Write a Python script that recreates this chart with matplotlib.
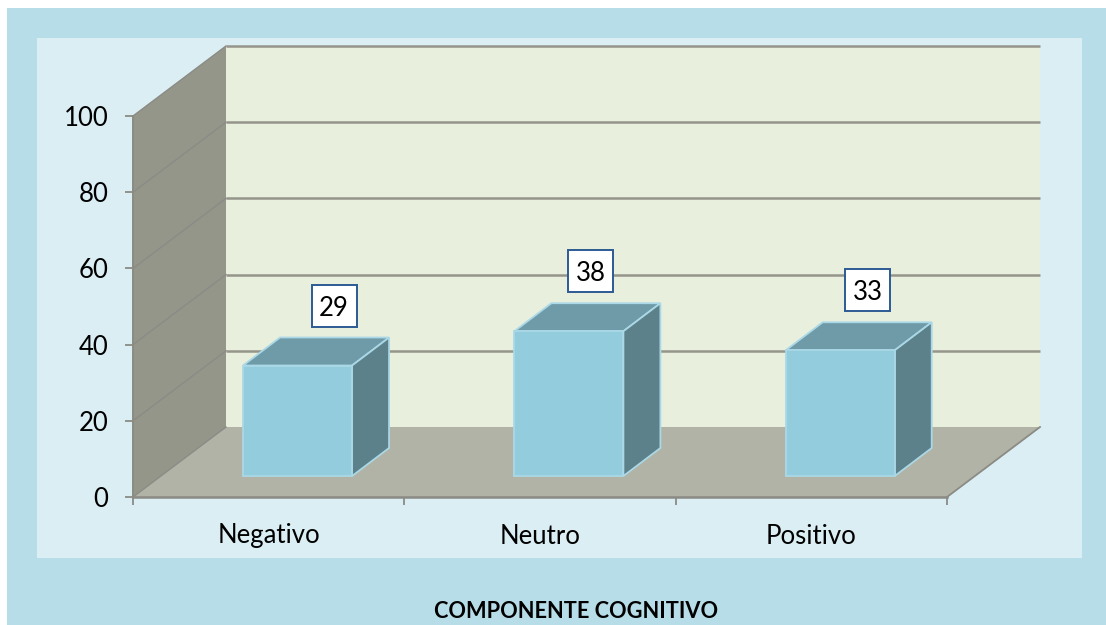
import matplotlib
matplotlib.use("Agg")
import matplotlib.pyplot as plt
from matplotlib.patches import Polygon, Rectangle

categories = ["Negativo", "Neutro", "Positivo"]
values = [29, 38, 33]
y_ticks = [0, 20, 40, 60, 80, 100]
x_title = "COMPONENTE COGNITIVO"

W, H = 1106, 625
plt.rcParams["font.family"] = ["Lato", "DejaVu Sans"]

fig = plt.figure(figsize=(W / 100, H / 100), dpi=100, facecolor="white")

# panels, in figure pixels
bg = fig.add_axes([0, 0, 1, 1])
bg.set_xlim(0, W)
bg.set_ylim(H, 0)
bg.axis("off")
bg.add_patch(Rectangle((7, 8), W - 7, H - 8, fc="#b7dde8", ec="none"))
bg.add_patch(Rectangle((37, 38), 1045, 520, fc="#dbeef4", ec="none"))

# plot axes: front plane of the 3D box
ax = fig.add_axes([133 / W, 1 - 497 / H, (947 - 133) / W, (497 - 116) / H])
ax.patch.set_alpha(0)
ax.set_xlim(0, 3)
ax.set_ylim(0, 100)
for s in ax.spines.values():
    s.set_visible(False)

px_x = 814 / 3
px_y = 381 / 100
dx = 93 / px_x
dy = 70 / px_y
grid = "#96958b"
axis_col = "#8b8b85"

# back wall, side wall, floor
ax.add_patch(Polygon([(dx, dy), (3 + dx, dy), (3 + dx, 100 + dy), (dx, 100 + dy)],
                     fc="#e9efdd", ec="none", clip_on=False, zorder=1))
ax.add_patch(Polygon([(0, 0), (dx, dy), (dx, 100 + dy), (0, 100)],
                     fc="#94968a", ec="none", clip_on=False, zorder=1))
ax.add_patch(Polygon([(0, 0), (3, 0), (3 + dx, dy), (dx, dy)],
                     fc="#b1b3a6", ec="none", clip_on=False, zorder=1))

for t in y_ticks[1:]:
    ax.plot([dx, 3 + dx], [t + dy, t + dy], color=grid, lw=1.8, clip_on=False, zorder=2, solid_capstyle="butt")
for t in y_ticks:
    ax.plot([0, dx], [t, t + dy], color=axis_col, lw=1.0, clip_on=False, zorder=2)
ax.plot([0, 0], [0, 100], color=axis_col, lw=1.4, clip_on=False, zorder=3)
ax.plot([0, 3], [0, 0], color=axis_col, lw=1.8, clip_on=False, zorder=3)
ax.plot([3, 3 + dx], [0, dy], color=axis_col, lw=1.3, clip_on=False, zorder=3)

# bars
edge = "#aad8e6"
bar_w = 109 / px_x
off_x, off_y = 0.3 * dx, 0.3 * dy
deep_x, deep_y = 37 / px_x, 28 / px_y
box_w, box_h = 45 / px_x, 42 / px_y
box_shift = [91, 76, 82]  # hand placed labels in the original, px from bar left
for i, v in enumerate(values):
    x0 = i + 0.5 + off_x - bar_w / 2 + 1 / px_x
    x1 = x0 + bar_w
    y0 = off_y
    y1 = off_y + v
    ax.add_patch(Polygon([(x0, y1), (x1, y1), (x1 + deep_x, y1 + deep_y), (x0 + deep_x, y1 + deep_y)],
                         fc="#6f9aa8", ec=edge, lw=1.3, clip_on=False, zorder=4))
    ax.add_patch(Polygon([(x1, y0), (x1 + deep_x, y0 + deep_y), (x1 + deep_x, y1 + deep_y), (x1, y1)],
                         fc="#5d818b", ec=edge, lw=1.3, clip_on=False, zorder=4))
    ax.add_patch(Rectangle((x0, y0), bar_w, v, fc="#93ccdd", ec=edge, lw=1.3, clip_on=False, zorder=5))
    cx = x0 + box_shift[i] / px_x
    cy = y1 + 60 / px_y
    ax.add_patch(Rectangle((cx - box_w / 2, cy - box_h / 2), box_w, box_h, fc="white", ec="#2c5a94",
                           lw=1.4, clip_on=False, zorder=6))
    ax.text(cx, cy, str(v), ha="center", va="center_baseline", fontsize=18.5, color="black", zorder=7)

ax.set_yticks(y_ticks)
ax.set_xticks([0, 1, 2, 3])
ax.set_xticklabels([])
ax.tick_params(axis="y", length=5.8, width=1.3, color=axis_col, labelsize=18.5, pad=12)
ax.tick_params(axis="x", length=5.8, width=1.3, color=axis_col)
for i, c in enumerate(categories):
    ax.annotate(c, (i + 0.5, 0), xytext=(0, -39 * 0.72), textcoords="offset points",
                ha="center", va="center", fontsize=18.5, color="black", annotation_clip=False)

bg.text(576, 612, x_title, ha="center", va="center", fontsize=15.7, fontweight="bold", color="black")

fig.savefig("out.png", dpi=100, facecolor="white")
